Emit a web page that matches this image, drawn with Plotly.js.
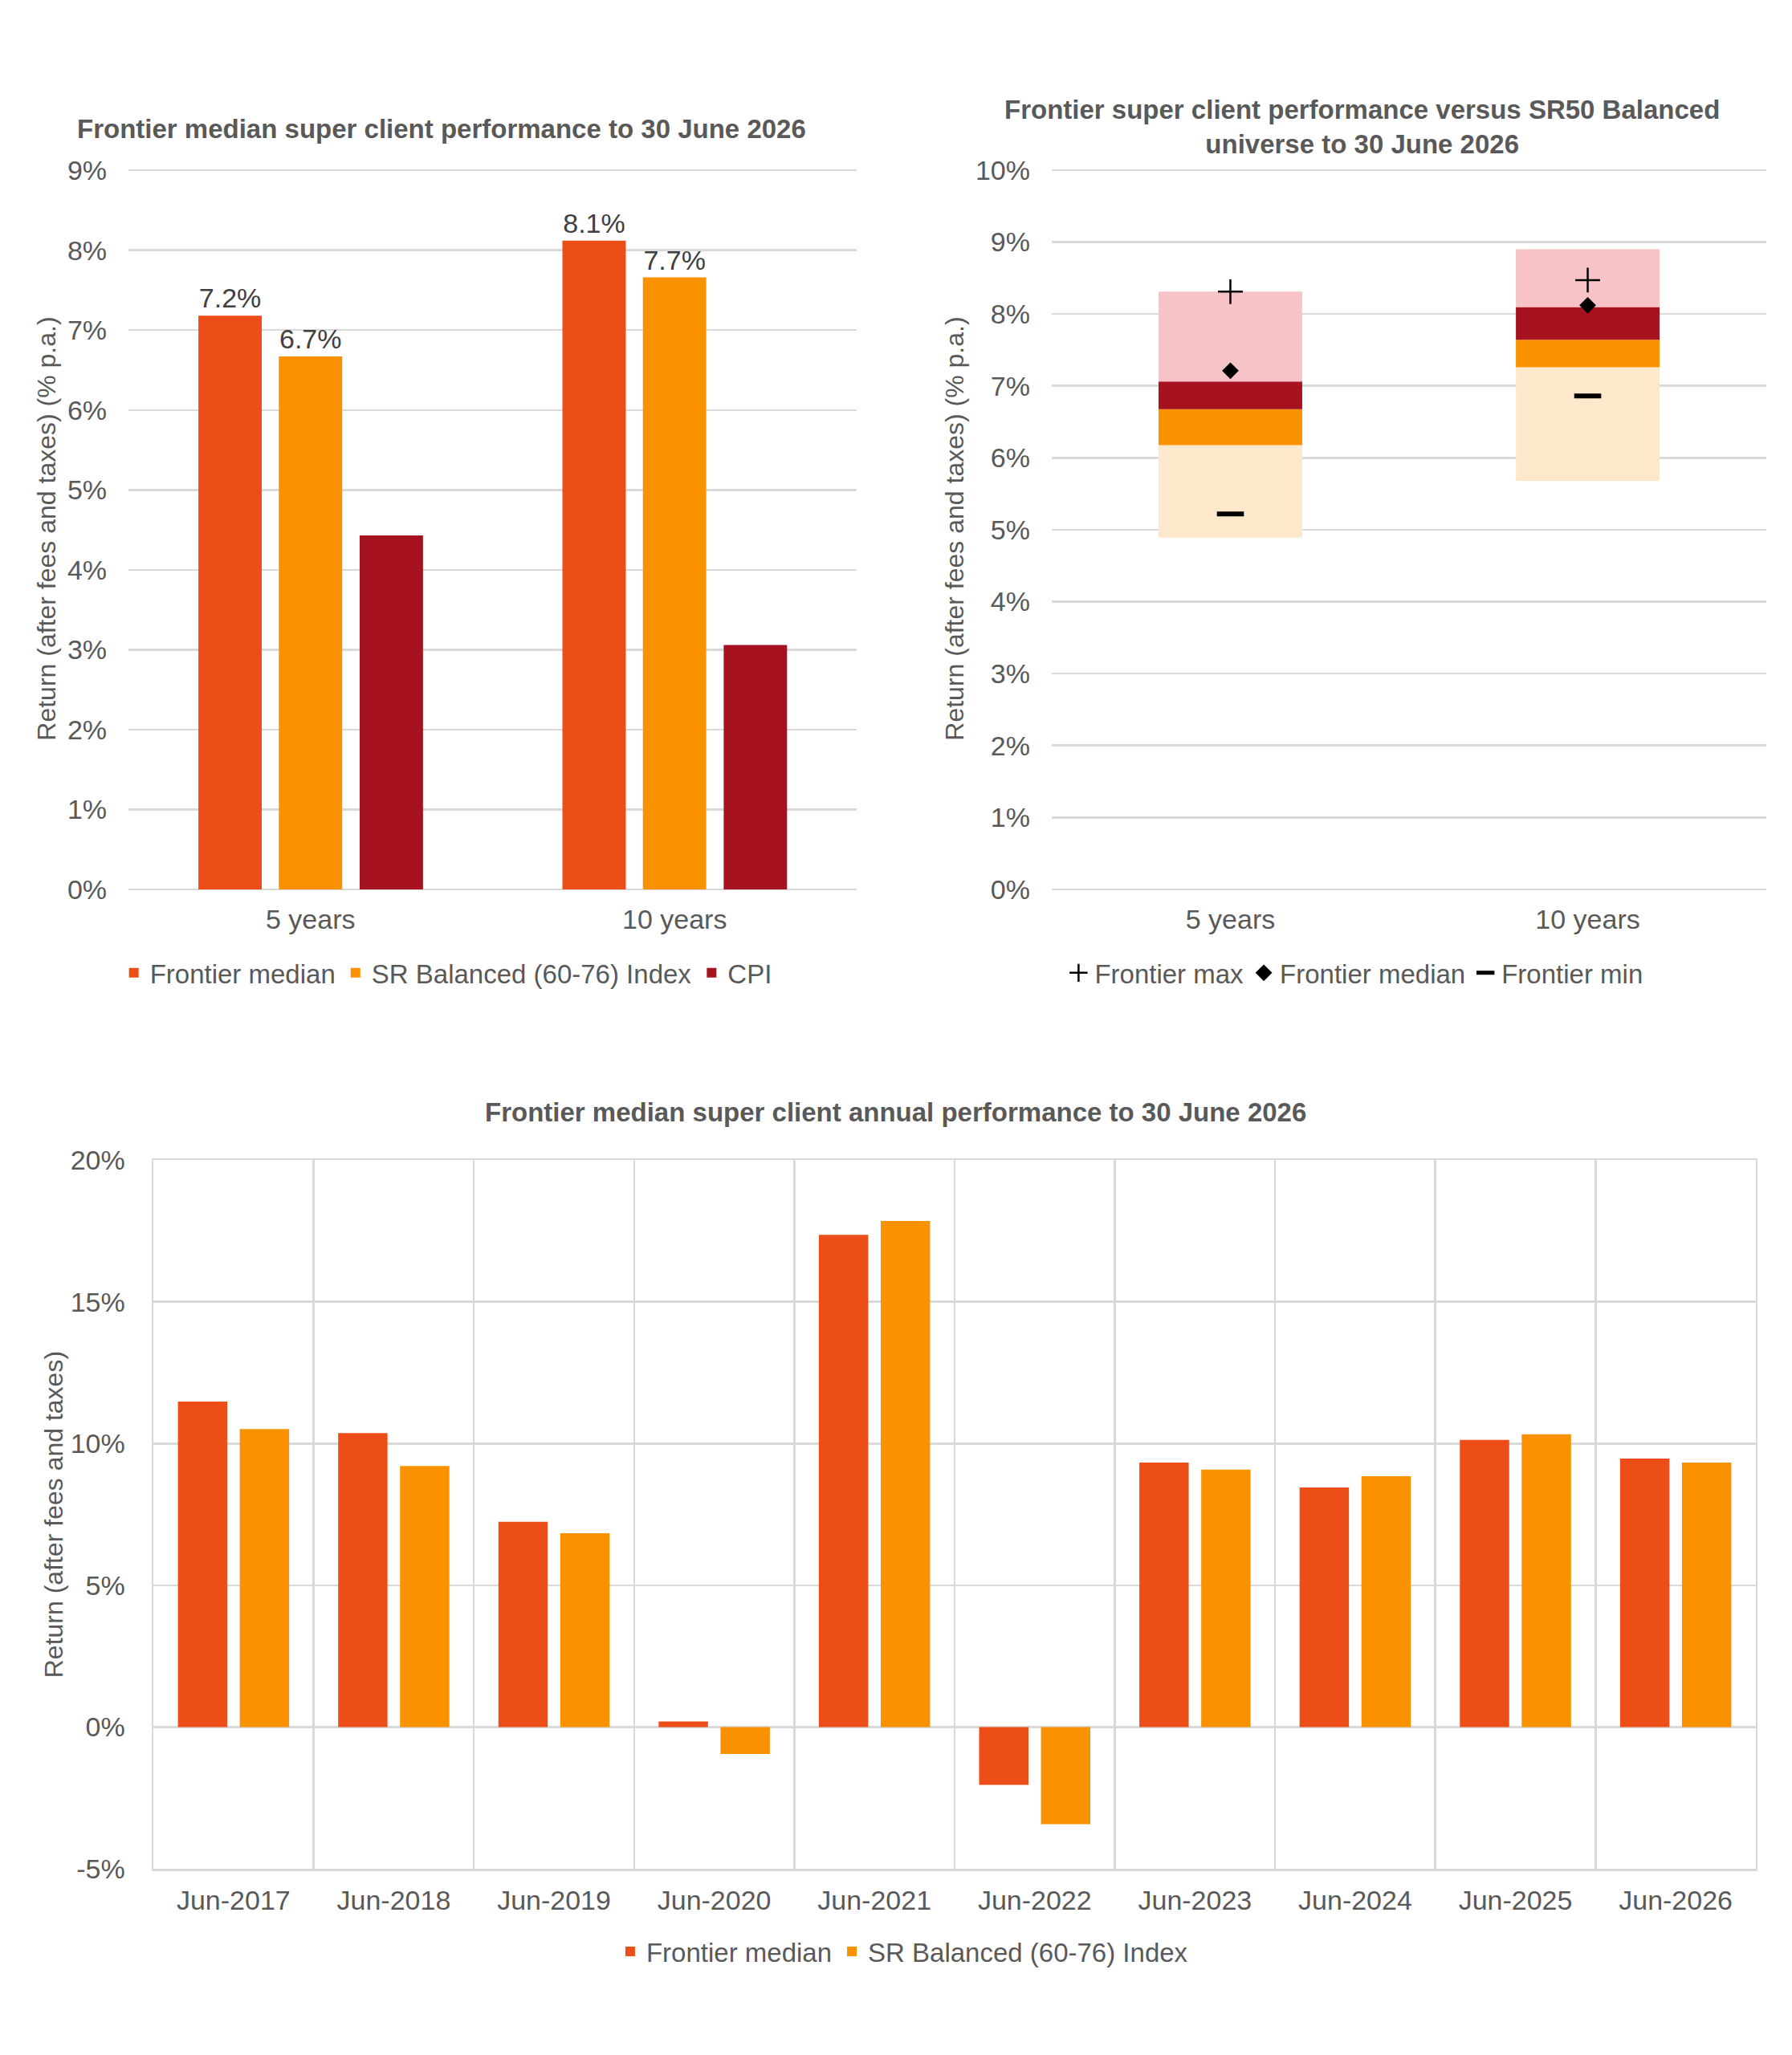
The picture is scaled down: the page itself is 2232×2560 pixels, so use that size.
<!DOCTYPE html>
<html>
<head>
<meta charset="utf-8">
<script src="https://cdn.plot.ly/plotly-3.0.1.min.js"></script>
<style>
  body { margin: 0; background: #fff; }
  #chart { width: 2232px; height: 2560px; }
</style>
</head>
<body>
<div id="chart"></div>
<script>
// top left: 5 and 10 year returns
let periods = ['5 years', '10 years'];
let frontierPeriod = [7.18, 8.12];
let srPeriod = [6.67, 7.66];
let cpiPeriod = [4.43, 3.06];

// top right: SR50 universe bands (bottom edge, then each band top)
let bandBottom = [4.89, 5.68];
let bandLight = [6.175, 7.26];
let bandOrange = [6.675, 7.64];
let bandRed = [7.06, 8.095];
let bandPink = [8.31, 8.90];
let frontierMax = [8.31, 8.47];
let frontierMedian = [7.21, 8.12];
let frontierMin = [5.22, 6.86];

// bottom: annual returns
let years = ['Jun-2017', 'Jun-2018', 'Jun-2019', 'Jun-2020', 'Jun-2021',
             'Jun-2022', 'Jun-2023', 'Jun-2024', 'Jun-2025', 'Jun-2026'];
let frontierAnnual = [11.48, 10.37, 7.24, 0.20, 17.36, -2.04, 9.33, 8.45, 10.13, 9.47];
let srAnnual = [10.51, 9.21, 6.84, -0.95, 17.85, -3.43, 9.08, 8.85, 10.33, 9.33];
let annualTicks = [-5, 0, 5, 10, 15, 20];
let annualTickText = ['-5%', '0%', '5%', '10%', '15%', '20%'];

let red = '#ED4E17';
let orange = '#FA9200';
let darkRed = '#A6121F';
let pink = '#F7C3C6';
let peach = '#FDE8CB';
let grid = '#D9D9D9';
let grey = '#595959';
let font = 'Liberation Sans, Arial, sans-serif';

function diff(a, b) {
  let out = [];
  for (let i = 0; i < a.length; i++) {
    out.push(a[i] - b[i]);
  }
  return out;
}

let labelFont = {family: font, size: 34, color: '#404040'};

let trace1 = {
  x: periods, y: frontierPeriod, name: 'Frontier median', type: 'bar',
  xaxis: 'x', yaxis: 'y', legend: 'legend',
  marker: {color: red}, width: 0.174, offset: -0.308,
  texttemplate: '%{y:.1f}%', textposition: 'outside', constraintext: 'none',
  cliponaxis: false, textfont: labelFont,
};
let trace2 = {
  x: periods, y: srPeriod, name: 'SR Balanced (60-76) Index', type: 'bar',
  xaxis: 'x', yaxis: 'y', legend: 'legend',
  marker: {color: orange}, width: 0.174, offset: -0.087,
  texttemplate: '%{y:.1f}%', textposition: 'outside', constraintext: 'none',
  cliponaxis: false, textfont: labelFont,
};
let trace3 = {
  x: periods, y: cpiPeriod, name: 'CPI', type: 'bar',
  xaxis: 'x', yaxis: 'y', legend: 'legend',
  marker: {color: darkRed}, width: 0.174, offset: 0.135,
};

function band(top, bottom, color) {
  return {
    x: periods, y: diff(top, bottom), base: bottom, type: 'bar',
    xaxis: 'x2', yaxis: 'y2', showlegend: false, hoverinfo: 'skip',
    marker: {color: color}, width: 0.402, offset: -0.201,
  };
}

let bandTraces = [
  band(bandLight, bandBottom, peach),
  band(bandOrange, bandLight, orange),
  band(bandRed, bandOrange, darkRed),
  band(bandPink, bandRed, pink),
];

let maxTrace = {
  x: periods, y: frontierMax, name: 'Frontier max', type: 'scatter', mode: 'markers',
  xaxis: 'x2', yaxis: 'y2', legend: 'legend2',
  marker: {symbol: 'cross-thin', size: 22, color: '#000', line: {width: 2.5, color: '#000'}},
};
let medianTrace = {
  x: periods, y: frontierMedian, name: 'Frontier median', type: 'scatter', mode: 'markers',
  xaxis: 'x2', yaxis: 'y2', legend: 'legend2',
  marker: {symbol: 'diamond', size: 16, color: '#000'},
};
let minTrace = {
  x: periods, y: frontierMin, name: 'Frontier min', type: 'scatter', mode: 'markers',
  xaxis: 'x2', yaxis: 'y2', legend: 'legend2',
  marker: {symbol: 'line-ew', size: 24, color: '#000', line: {width: 6, color: '#000'}},
};

let trace4 = {
  x: years, y: frontierAnnual, name: 'Frontier median', type: 'bar',
  xaxis: 'x3', yaxis: 'y3', legend: 'legend3',
  marker: {color: red}, width: 0.308, offset: -0.347,
};
let trace5 = {
  x: years, y: srAnnual, name: 'SR Balanced (60-76) Index', type: 'bar',
  xaxis: 'x3', yaxis: 'y3', legend: 'legend3',
  marker: {color: orange}, width: 0.308, offset: 0.039,
};

let tickFont = {family: font, size: 34, color: grey};
let axisTitleFont = {family: font, size: 32, color: grey};
let legendFont = {family: font, size: 33, color: grey};
let titleFont = {family: font, size: 33, color: grey, weight: 'bold'};

let catAxis = {
  type: 'category', showgrid: false, zeroline: false, showline: false,
  ticks: '', tickfont: tickFont, ticklabelstandoff: 14, fixedrange: true,
};
let valAxis = {
  showgrid: true, gridcolor: grid, gridwidth: 2.5, zeroline: true,
  zerolinecolor: grid, zerolinewidth: 2.5, showline: false, ticks: '',
  ticksuffix: '%', tickfont: tickFont, ticklabelstandoff: 26, fixedrange: true,
};

let layout = {
  width: 2232,
  height: 2560,
  margin: {l: 0, r: 0, t: 0, b: 0},
  paper_bgcolor: '#fff',
  plot_bgcolor: 'rgba(0,0,0,0)',
  font: {family: font, color: grey},
  barmode: 'group',
  xaxis: Object.assign({}, catAxis, {domain: [0.0717, 0.4780], anchor: 'y'}),
  yaxis: Object.assign({}, valAxis, {
    domain: [0.5672, 0.9183], anchor: 'x', range: [0, 9.03], dtick: 1,
    title: {text: 'Return (after fees and taxes) (% p.a.)', font: axisTitleFont, standoff: 4},
  }),
  xaxis2: Object.assign({}, catAxis, {domain: [0.5869, 0.9857], anchor: 'y2'}),
  yaxis2: Object.assign({}, valAxis, {
    domain: [0.5672, 0.9183], anchor: 'x2', range: [0, 10.03], dtick: 1,
    title: {text: 'Return (after fees and taxes) (% p.a.)', font: axisTitleFont, standoff: 4},
  }),
  xaxis3: Object.assign({}, catAxis, {
    domain: [0.0856, 0.9798], anchor: 'y3', tickson: 'boundaries',
    showgrid: true, gridcolor: grid, gridwidth: 2.5, ticklabelstandoff: 8,
    showline: true, linecolor: grid, linewidth: 2.5, mirror: true,
  }),
  yaxis3: Object.assign({}, valAxis, {
    domain: [0.0906, 0.4355], anchor: 'x3', range: [-5, 20],
    tickvals: annualTicks, ticktext: annualTickText, ticksuffix: '',
    showline: true, linecolor: grid, linewidth: 2.5, mirror: true,
    title: {text: 'Return (after fees and taxes)', font: axisTitleFont, standoff: 0},
  }),
  legend: {
    orientation: 'h', x: 0.2494, xanchor: 'center', y: 0.5266, yanchor: 'middle',
    font: legendFont, bgcolor: 'rgba(0,0,0,0)',
  },
  legend2: {
    orientation: 'h', x: 0.756, xanchor: 'center', y: 0.5266, yanchor: 'middle',
    font: legendFont, bgcolor: 'rgba(0,0,0,0)',
  },
  legend3: {
    orientation: 'h', x: 0.504, xanchor: 'center', y: 0.0504, yanchor: 'middle',
    font: legendFont, bgcolor: 'rgba(0,0,0,0)',
  },
  annotations: [
    {text: 'Frontier median super client performance to 30 June 2026', xref: 'paper', yref: 'paper',
     x: 0.2464, y: 0.9375, xanchor: 'center', yanchor: 'middle', showarrow: false, font: titleFont},
    {text: 'Frontier super client performance versus SR50 Balanced<br>universe to 30 June 2026',
     xref: 'paper', yref: 'paper', x: 0.760, y: 0.9383, xanchor: 'center', yanchor: 'middle',
     showarrow: false, font: titleFont},
    {text: 'Frontier median super client annual performance to 30 June 2026', xref: 'paper', yref: 'paper',
     x: 0.4996, y: 0.4586, xanchor: 'center', yanchor: 'middle', showarrow: false, font: titleFont},
  ],
};

let data = [trace1, trace2, trace3].concat(bandTraces, [maxTrace, medianTrace, minTrace, trace4, trace5]);

Plotly.newPlot('chart', data, layout, {displayModeBar: false, staticPlot: true});
</script>
</body>
</html>
